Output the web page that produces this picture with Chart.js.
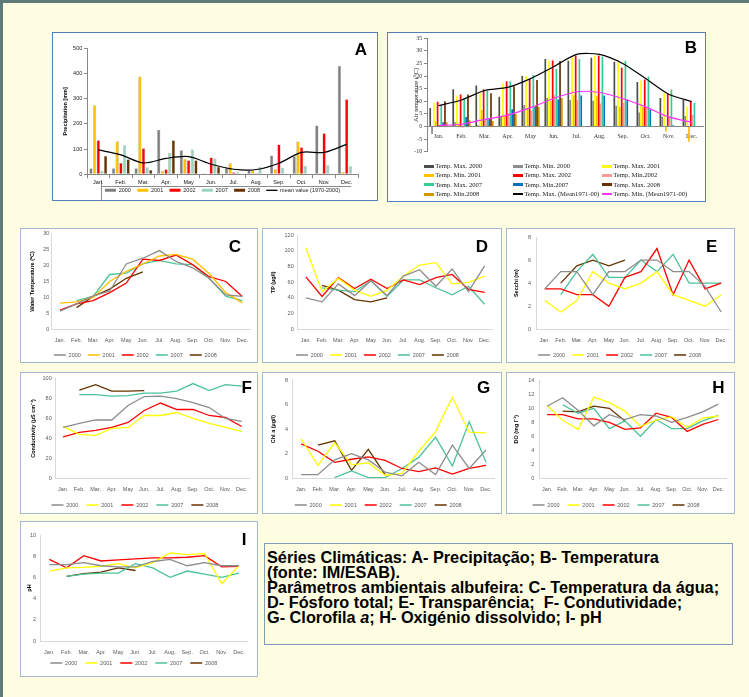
<!DOCTYPE html>
<html>
<head>
<meta charset="utf-8">
<script src="https://cdn.jsdelivr.net/npm/chart.js@4.4.1/dist/chart.umd.min.js"></script>
<style>
html,body{margin:0;padding:0}
body{position:relative;width:749px;height:697px;overflow:hidden;background:#FEFDE1;font-family:'Liberation Sans',Arial,sans-serif}
.fr{position:absolute;background:#5E7A79}
.box{position:absolute;box-sizing:border-box;background:#fff;border:1px solid #A3B8D2}
.boxAB{border-color:#4F81BD}
canvas{position:absolute}
.letter{position:absolute;font-weight:bold;font-size:17px;line-height:17px;color:#000;transform:translate(-50%,-50%)}
.leg{position:absolute;font-family:'Liberation Serif','Times New Roman',serif;font-size:6.6px;color:#222;white-space:nowrap;line-height:8px;transform:translateY(-50%)}
.legmark{position:absolute}
.note{position:absolute;left:264px;top:543px;width:469px;height:102px;box-sizing:border-box;border:1px solid #7F9DB9;padding:6px 0 0 2px;font-weight:bold;font-size:16.3px;line-height:15.1px;color:#000;white-space:nowrap}
.hl{position:absolute;background:#8c8c8c}
</style>
</head>
<body>
<div class="fr" style="left:0;top:0;width:749px;height:3px"></div>
<div class="fr" style="left:0;top:0;width:3px;height:697px"></div>

<div class="box boxAB" style="left:52px;top:32px;width:326px;height:169px"></div>
<div class="box boxAB" style="left:387px;top:32px;width:319px;height:170px"></div>
<div class="box" style="left:20px;top:228px;width:238px;height:135px"></div>
<div class="box" style="left:262px;top:228px;width:240px;height:135px"></div>
<div class="box" style="left:506px;top:228px;width:229px;height:135px"></div>
<div class="box" style="left:20px;top:372px;width:238px;height:142px"></div>
<div class="box" style="left:262px;top:372px;width:240px;height:142px"></div>
<div class="box" style="left:506px;top:372px;width:229px;height:142px"></div>
<div class="box" style="left:20px;top:521px;width:238px;height:156px"></div>

<div class="hl" style="left:101px;top:186px;width:250px;height:1px"></div>
<div class="hl" style="left:101px;top:180px;width:1px;height:21px"></div>

<div class="note">Séries Climáticas: A- Precipitação; B- Temperatura<br>(fonte: IM/ESAB).<br>Parâmetros ambientais albufeira: C- Temperatura da água;<br>D- Fósforo total; E- Transparência;&nbsp; F- Condutividade;<br>G- Clorofila <i>a</i>; H- Oxigénio dissolvido; I- pH</div>

<script>
// ---------- DATA ----------
const months = ['Jan.','Feb.','Mar.','Apr.','May','Jun.','Jul.','Aug.','Sep.','Oct.','Nov.','Dec.'];
const years = ['2000','2001','2002','2007','2008'];

// A - Precipitation (mm)
const precip2000 = [24, 24, 24, 177, 95, 4, 24, 17, 75, 72, 194, 430];
const precip2001 = [274, 131, 388, 13, 62, 0, 44, 17, 22, 130, 4, 10];
const precip2002 = [135, 45, 103, 20, 56, 67, 8, 4, 118, 107, 163, 298];
const precip2007 = [13, 115, 28, 85, 98, 63, 10, 30, 26, 33, 36, 32];
const precip2008 = [73, 60, 17, 135, 56, 30, 0, 0, null, null, null, null];
const precipMean = [97, 77, 45, 63, 70, 40, 20, 19, 44, 87, 87, 119];
const precipMeanLabel = 'mean value (1970-2000)';

// B - Air temperature (°C)
const tempLabels = ['Temp. Max. 2000','Temp. Min. 2000','Temp. Max. 2001','Temp. Min. 2001','Temp. Max. 2002','Temp. Min.2002','Temp. Max. 2007','Temp. Min.2007','Temp. Max. 2008','Temp. Min.2008','Temp. Max. (Mean1971-00)','Temp. Min. (Mean1971-00)'];
const tMax2000 = [7.3, 14.8, 16.3, 11.8, 20, 26.8, 26.1, 27.3, 25.7, 17.7, 11.3, 10.5];
const tMin2000 = [-3, 1.7, 0.5, 4, 8.5, 11.3, 10.5, 10.2, 8.2, 5.6, 4, 4.2];
const tMax2001 = [9.4, 12.3, 13.1, 17, 20, 26.2, 27.5, 28.2, 25.4, 18.3, 13.2, 7.8];
const tMin2001 = [2.2, 1.2, 6.6, 4, 7, 10, 12.4, 12.2, 7.8, 7.7, -2.1, -6.1];
const tMax2002 = [9.8, 12.7, 14.8, 18, 18.8, 26.2, 28.2, 28.2, 23.3, 18.7, 13.1, 10];
const tMin2002 = [0.5, -0.5, 3, 5.2, 6.2, 12.4, 10.5, 9.1, 9.3, 7.5, 4, 4.6];
const tMax2007 = [8.5, 11.1, 14.2, 18, 20.4, 22.8, 26.8, 27.8, 26, 19.7, 14.7, 9.3];
const tMin2007 = [1.7, 3.8, 3.2, 6.8, 8, 10.7, 12.3, 12.3, 10.7, 6.8, 0.5, null];
const tMax2008 = [10, 12.7, 13.2, 16, 18.5, 26, null, null, null, null, null, null];
const tMin2008 = [1.7, 2.5, 2.2, 5, 7.8, 11.3, null, null, null, null, null, null];
const tMaxMean = [8.3, 10.5, 14.3, 15.5, 19, 23.7, 28.6, 28.6, 25, 19, 12.8, 9.9];
const tMinMean = [0.4, 0.9, 2.8, 4.5, 7.5, 11.1, 13.8, 13.5, 11.1, 7.8, 3.8, 1.7];

// C - Water temperature (°C)
const wt2000 = [5.7, 8, 10.5, 12, 20.5, 22.3, 24.7, 21.3, 19.3, 16, 10.8, 10.3];
const wt2001 = [8.2, 8.6, 10, 15, 18.2, 20.5, 23, 23.5, 22, 17.5, 11.5, 8.3];
const wt2002 = [6, 8, 9, 11.5, 14.5, 22, 21.6, 23.3, 20.3, 16.5, 15, 10.3];
const wt2007 = [null, 9, 10.3, 17.2, 17.6, 20.5, 21.6, 20.5, 20.3, 16, 10.4, 9];
const wt2008 = [null, 6.8, 10.3, 12.6, 16, 18, null, null, null, null, null, null];

// D - Total phosphorus (µg/l)
const tp2000 = [40, 35, 58, 43, 62, 43, 68, 76, 55, 77, 48, 81];
const tp2001 = [104, 48, 65, 50, 42, 50, 68, 82, 85, 58, 60, 68];
const tp2002 = [67, 42, 66, 52, 64, 52, 63, 57, 66, 70, 51, 47];
const tp2007 = [null, 53, 50, 48, 62, 42, 63, 63, 53, 44, 55, 32];
const tp2008 = [null, 56, 50, 38, 35, 40, null, null, null, null, null, null];

// E - Secchi (m)
const sd2000 = [3.5, 5, 5, 3, 5, 5, 6, 6, 5, 5, 3.7, 1.5];
const sd2001 = [2.5, 1.5, 2.5, 5, 4, 3.5, 4, 5, 3, 2.5, 2, 3];
const sd2002 = [3.5, 3.5, 3, 3, 2, 4.5, 5, 7, 3, 6, 3.5, 4];
const sd2007 = [null, 3, 5, 6.5, 4.5, 4.5, 6, 5, 6.5, 4, 4, 4];
const sd2008 = [null, 4, 5.5, 6, 5.5, 6, null, null, null, null, null, null];

// F - Conductivity (µS/cm)
const cond2000 = [51, 55, 58.5, 58.5, 73, 82, 82.5, 80, 76, 71, 60, 57];
const cond2001 = [52, 44, 43, 50, 51, 63, 63, 66, 60, 55, 51, 47];
const cond2002 = [41.5, 46, 48, 51, 56, 68, 75.5, 69, 69, 63, 61, 52];
const cond2007 = [null, 84, 84, 82.5, 83, 85.5, 85.5, 87.5, 95, 88, 94, 92.5];
const cond2008 = [null, 88.5, 94, 87.5, 87.5, 88, null, null, null, null, null, null];

// G - Chlorophyll a (µg/l)
const chl2000 = [0.3, 0.3, 1.5, 2, 1.5, 0.5, 0.2, 1.3, 0.3, 2.7, 0.8, 2.3];
const chl2001 = [3.2, 1.05, 2.9, 1.1, 1.25, 0.25, 0.4, 2.2, 3.8, 6.6, 3.75, 3.7];
const chl2002 = [2.8, 2.2, 1.3, 1.55, 1.75, 1.45, 0.8, 0.55, 0.85, 0.35, 0.8, 1.05];
const chl2007 = [null, null, 0.05, 0.6, 0.05, 0.05, 0.8, 1.7, 3.35, 1.0, 4.6, 1.3];
const chl2008 = [null, 2.7, 3.05, 0.65, 2.35, 0.3, null, null, null, null, null, null];

// H - Dissolved oxygen (mg/l)
const do2000 = [10.3, 11.5, 9.7, 7.5, 9.1, 8.4, 9.1, 8.9, 8, 8.7, 9.5, 10.6];
const do2001 = [10.4, 8.3, 7, 11.6, 10.8, 9.6, 7.4, 8.3, 8.8, 7.3, 8.6, 8.9];
const do2002 = [9.1, 9.1, 8.5, 8.5, 8, 7, 7.2, 9.3, 8.7, 6.7, 7.7, 8.4];
const do2007 = [null, 10.5, 9.3, 10, 7.1, 8.2, 6, 8.4, 7.1, 7.1, 8.2, 9];
const do2008 = [null, 9.6, 9.5, 10.3, 10, 8.2, null, null, null, null, null, null];

// I - pH
const ph2000 = [7.2, 7.2, 7.4, 7.1, 7, 7, 7.5, 7.7, 7.1, 7.4, 7.1, 7.1];
const ph2001 = [6.6, 6.9, 6.95, 7.05, 7.3, 6.9, 7.4, 8.3, 8.15, 8.25, 5.4, 7.1];
const ph2002 = [7.7, 6.9, 8.05, 7.55, 7.65, 7.75, 7.85, 7.85, 7.9, 8.05, 7, 7.05];
const ph2007 = [null, 6.1, 6.3, 6.4, 6.4, 7.3, 6.9, 6, 6.6, 6.3, 6, 6.4];
const ph2008 = [null, 6.1, 6.35, 6.5, 6.9, 6.65, null, null, null, null, null, null];

// ---------- STYLE ----------
const LF = "'Liberation Sans', Arial, sans-serif";
const SF = "'Liberation Serif', 'Times New Roman', serif";
const lineColors = ['#8C8C8C', '#FFFF00', '#FF0000', '#4CC29B', '#663300'];
const lineColorsC = ['#8C8C8C', '#FFC000', '#FF0000', '#4CC29B', '#663300'];
const barColorsA = ['#808080', '#FFC000', '#FF0000', '#9DD3BD', '#663300'];
const barColorsB = ['#4D4D4D', '#8C8C8C', '#FFFF00', '#FFC000', '#FF0000', '#FF9999', '#33CC99', '#0070C0', '#663300', '#CC9900'];
const meanColorsB = ['#000000', '#FF33FF'];

// labels of an axis are drawn without clipping to the axis box
const noClip = s => { s._computeLabelArea = () => undefined; };

function addCanvas(x, y, w, h) {
  const c = document.createElement('canvas');
  c.width = w; c.height = h;
  c.style.left = x + 'px'; c.style.top = y + 'px';
  c.style.width = w + 'px'; c.style.height = h + 'px';
  document.body.appendChild(c);
  return c;
}
function addLetter(t, x, y, size) {
  const d = document.createElement('div');
  d.className = 'letter'; d.textContent = t;
  d.style.left = x + 'px'; d.style.top = y + 'px';
  if (size) { d.style.fontSize = size + 'px'; }
  document.body.appendChild(d);
}

function linePanel(p) {
  const [bx, by, bw] = p.box;
  const fs = 5.5, lpad = p.lpad || 7;
  const legendTop = p.legendY - by - lpad - fs / 2;
  const H = Math.ceil(legendTop + 16);
  const cv = addCanvas(bx, by, bw, H);
  const plotB = p.plot.b - by;
  new Chart(cv, {
    type: 'line',
    data: {
      labels: months,
      datasets: years.map((yl, i) => ({
        label: yl, data: p.series[i], borderColor: p.colors[i], backgroundColor: p.colors[i],
        borderWidth: 1.3, pointRadius: 0, tension: 0, fill: false
      }))
    },
    options: {
      responsive: false, animation: false, devicePixelRatio: 1,
      layout: { padding: { left: 0, right: bw - (p.plot.r - bx), top: p.plot.t - by, bottom: 0 } },
      plugins: {
        legend: { position: 'bottom', maxHeight: H - legendTop,
          labels: { boxWidth: 12, boxHeight: 0, padding: lpad, color: '#595959', font: { size: fs, family: LF } } },
        tooltip: { enabled: false }
      },
      scales: {
        x: { offset: true, grid: { display: false, drawTicks: false }, border: { display: true, color: '#D9D9D9', width: 1 },
          ticks: { font: { size: fs, family: LF }, color: '#595959', padding: p.labelY - p.plot.b - fs * 0.6, maxRotation: 0, autoSkip: false },
          afterFit: s => { s.height = legendTop - plotB; noClip(s); } },
        y: { min: p.min, max: p.max, grid: { display: false, drawTicks: false }, border: { display: true, color: '#D9D9D9', width: 1 },
          ticks: { stepSize: p.step, font: { size: fs, family: LF }, color: '#595959', padding: p.plot.l - p.tickR },
          title: { display: true, text: p.title, color: '#000', font: { size: fs, family: LF, weight: 'bold' }, padding: { top: p.titleX - bx - fs * 0.6, bottom: 0 } },
          afterFit: s => { s.width = p.plot.l - bx; } }
      }
    }
  });
}

// ---------- PANEL A ----------
(function () {
  const bx = 52, by = 32, bw = 326;
  const fs = 5.5, lpad = 6.3;
  const plot = { l: 87, r: 358, t: 48.3, b: 174.3 };
  const legendTop = 190.3 - by - lpad - fs / 2;
  const H = Math.ceil(legendTop + 16);
  const cv = addCanvas(bx, by, bw, H);
  const precipSeries = [precip2000, precip2001, precip2002, precip2007, precip2008];
  new Chart(cv, {
    type: 'bar',
    data: {
      labels: months,
      datasets: years.map((yl, i) => ({
        label: yl, data: precipSeries[i], backgroundColor: barColorsA[i], borderColor: 'rgba(0,0,0,0.35)', borderWidth: 0.5,
        categoryPercentage: 0.81, barPercentage: 0.9, order: 2
      })).concat([{
        type: 'line', label: precipMeanLabel, data: precipMean, borderColor: '#000', backgroundColor: '#000',
        borderWidth: 1.2, pointRadius: 0, tension: 0.3, order: 1
      }])
    },
    options: {
      responsive: false, animation: false, devicePixelRatio: 1,
      layout: { padding: { left: 0, right: bw - (plot.r - bx), top: plot.t - by, bottom: 0 } },
      plugins: {
        legend: { position: 'bottom', fullSize: false, maxHeight: H - legendTop,
          labels: { boxWidth: 11, boxHeight: 0, padding: lpad, color: '#222', font: { size: fs, family: LF },
            sort: (a, b) => a.datasetIndex - b.datasetIndex,
            generateLabels: chart => {
              const items = Chart.defaults.plugins.legend.labels.generateLabels(chart);
              items.forEach(it => {
                const ds = chart.data.datasets[it.datasetIndex];
                if (ds.type === 'line') { it.lineWidth = 1; it.strokeStyle = '#000'; }
                else { it.lineWidth = 3; it.strokeStyle = ds.backgroundColor; }
              });
              return items;
            } } },
        tooltip: { enabled: false }
      },
      scales: {
        x: { offset: true, grid: { display: true, drawOnChartArea: false, drawTicks: true, tickLength: 4, color: '#888', offset: true },
          border: { display: true, color: '#888' },
          ticks: { font: { size: fs, family: LF }, color: '#111', padding: 182.7 - plot.b - 4 - fs * 0.6, maxRotation: 0, autoSkip: false },
          afterFit: s => { s.height = legendTop - (plot.b - by); noClip(s); } },
        y: { min: 0, max: 500, grid: { display: true, drawOnChartArea: false, drawTicks: true, tickLength: 3, color: '#888' },
          border: { display: true, color: '#888' },
          ticks: { stepSize: 100, font: { size: fs, family: LF }, color: '#222', padding: plot.l - 3 - 82.3 },
          title: { display: true, text: 'Precipitation [mm]', color: '#000', font: { size: fs, family: LF, weight: 'bold' }, padding: { top: 65 - bx - fs * 0.6, bottom: 0 } },
          afterFit: s => { s.width = plot.l - bx; } }
      }
    }
  });
})();

// ---------- PANEL B ----------
(function () {
  const bx = 387, by = 32, bw = 319, H = 170;
  const plot = { l: 427, r: 703.2, t: 38.3, b: 151.7 };
  const cv = addCanvas(bx, by, bw, H);
  const barSeries = [tMax2000, tMin2000, tMax2001, tMin2001, tMax2002, tMin2002, tMax2007, tMin2007, tMax2008, tMin2008];
  const meanSeries = [tMaxMean, tMinMean];
  const datasets = barSeries.map((d, i) => ({
    label: tempLabels[i], data: d, backgroundColor: barColorsB[i], borderWidth: 0,
    categoryPercentage: 0.8, barPercentage: 0.92, order: 2
  })).concat(meanSeries.map((d, i) => ({
    type: 'line', label: tempLabels[10 + i], data: d, borderColor: meanColorsB[i], backgroundColor: meanColorsB[i],
    borderWidth: 1.2, pointRadius: 0, tension: 0.25, order: 1
  })));
  new Chart(cv, {
    type: 'bar',
    data: { labels: months, datasets: datasets },
    options: {
      responsive: false, animation: false, devicePixelRatio: 1,
      layout: { padding: { left: 0, right: bw - (plot.r - bx), top: plot.t - by, bottom: H - (plot.b - by) } },
      plugins: { legend: { display: false }, tooltip: { enabled: false } },
      scales: {
        x: { position: { y: 0 }, offset: true, grid: { display: false, drawTicks: false }, border: { display: true, color: '#888' },
          ticks: { font: { size: 6, family: SF }, color: '#333', padding: 6.1, maxRotation: 0, autoSkip: false },
          afterFit: s => { s.height = 0; noClip(s); } },
        y: { min: -10, max: 35, grid: { display: true, drawOnChartArea: false, drawTicks: true, tickLength: 3, color: '#888' },
          border: { display: true, color: '#888' },
          ticks: { stepSize: 5, font: { size: 6, family: SF }, color: '#333', padding: plot.l - 3 - 422.3 },
          title: { display: true, text: 'Air temperature (°C)', color: '#222', font: { size: 6.5, family: SF }, padding: { top: 416.7 - bx - 3.9, bottom: 0 } },
          afterFit: s => { s.width = plot.l - bx; } }
      }
    }
  });
  // HTML legend laid out as a 3-column grid like the original
  const colX = [424.3, 513.3, 602.3];
  const rowY = [166, 175.3, 184.7, 194];
  datasets.forEach((ds, i) => {
    const cx = colX[i % 3], cy = rowY[Math.floor(i / 3)];
    const m = document.createElement('div');
    m.className = 'legmark';
    const isLine = ds.type === 'line';
    const h = isLine ? 1.3 : 3;
    m.style.left = cx + 'px'; m.style.top = (cy - h / 2) + 'px';
    m.style.width = '10px'; m.style.height = h + 'px';
    m.style.background = isLine ? ds.borderColor : ds.backgroundColor;
    document.body.appendChild(m);
    const t = document.createElement('div');
    t.className = 'leg'; t.textContent = ds.label;
    t.style.left = (cx + 11) + 'px'; t.style.top = cy + 'px';
    document.body.appendChild(t);
  });
})();

// ---------- PANELS C - I ----------
linePanel({ box: [20, 228, 238], plot: { l: 51.7, r: 250.6, t: 232.3, b: 329.3 }, labelY: 340.7, legendY: 355, titleX: 32.7, tickR: 49.3,
  min: 0, max: 30, step: 5, title: 'Water Temperature (ºC)', series: [wt2000, wt2001, wt2002, wt2007, wt2008], colors: lineColorsC });
linePanel({ box: [262, 228, 240], plot: { l: 297.7, r: 492.8, t: 232.3, b: 329.3 }, labelY: 340.7, legendY: 355, titleX: 273.7, tickR: 293.7,
  min: 0, max: 120, step: 20, title: 'TP (µg/l)', series: [tp2000, tp2001, tp2002, tp2007, tp2008], colors: lineColors });
linePanel({ box: [506, 228, 229], plot: { l: 536.7, r: 733.2, t: 233, b: 329.3 }, labelY: 340.7, legendY: 355, titleX: 516.7, tickR: 531,
  min: 0, max: 8, step: 2, title: 'Secchi (m)', series: [sd2000, sd2001, sd2002, sd2007, sd2008], colors: lineColors });
linePanel({ box: [20, 372, 238], plot: { l: 55, r: 249.8, t: 378.3, b: 478.3 }, labelY: 489, legendY: 505, titleX: 33.3, tickR: 51.7, lpad: 8,
  min: 0, max: 100, step: 20, title: 'Conductivity (µS cm⁻¹)', series: [cond2000, cond2001, cond2002, cond2007, cond2008], colors: lineColors });
linePanel({ box: [262, 372, 240], plot: { l: 292.7, r: 494.4, t: 379, b: 478.3 }, labelY: 489, legendY: 505, titleX: 273.7, tickR: 288, lpad: 8,
  min: 0, max: 8, step: 2, title: 'Chl a (µg/l)', series: [chl2000, chl2001, chl2002, chl2007, chl2008], colors: lineColors });
linePanel({ box: [506, 372, 229], plot: { l: 539.3, r: 726.1, t: 378.3, b: 478.3 }, labelY: 489, legendY: 505, titleX: 516.7, tickR: 534.3, lpad: 8,
  min: 0, max: 14, step: 2, title: 'DO (mg l⁻¹)', series: [do2000, do2001, do2002, do2007, do2008], colors: lineColors });
linePanel({ box: [20, 521, 238], plot: { l: 40.7, r: 247.6, t: 535, b: 641 }, labelY: 652, legendY: 663, titleX: 29.3, tickR: 36, lpad: 8,
  min: 0, max: 10, step: 2, title: 'pH', series: [ph2000, ph2001, ph2002, ph2007, ph2008], colors: lineColors });

// ---------- PANEL LETTERS ----------
addLetter('A', 361, 49);
addLetter('B', 691, 47.3);
addLetter('C', 235, 245.7);
addLetter('D', 482, 245.7);
addLetter('E', 711.7, 245.7);
addLetter('F', 246.7, 387.3);
addLetter('G', 483.7, 387.3);
addLetter('H', 718.3, 387.3);
addLetter('I', 244, 539.3);
</script>
</body>
</html>
